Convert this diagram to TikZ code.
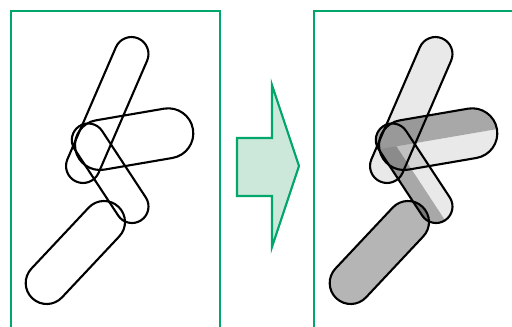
\documentclass[tikz,border=0pt]{standalone}
\definecolor{frameg}{RGB}{0,166,106}
\definecolor{arrowfill}{RGB}{204,232,218}
\definecolor{lightg}{RGB}{233,233,233}
\definecolor{darkg}{RGB}{168,168,168}
\tikzset{
  frame/.style={draw=frameg, line width=2.8pt},
  arrowshape/.style={draw=frameg, fill=arrowfill, line width=2.2pt, line join=miter},
  outline/.style={draw=black, line width=2.1pt},
  lightfill/.style={fill=black, fill opacity=0.085},
  midfill/.style={fill=black, fill opacity=0.29},
  lightsolid/.style={fill=lightg},
  darksolid/.style={fill=darkg},
}
% #1 style, #2 centre, #3 angle, #4 half distance between cap centres, #5 radius
\newcommand\capsfull[5]{\path[#1,shift={#2},rotate=#3] (-#4,-#5) -- (#4,-#5) arc[start angle=-90,end angle=90,radius=#5] -- (-#4,#5) arc[start angle=90,end angle=270,radius=#5] -- cycle;}
\newcommand\capsup[5]{\path[#1,shift={#2},rotate=#3] ({-#4-#5},0) arc[start angle=180,end angle=90,radius=#5] -- (#4,#5) arc[start angle=90,end angle=0,radius=#5] -- cycle;}
\newcommand\capslow[5]{\path[#1,shift={#2},rotate=#3] ({-#4-#5},0) arc[start angle=180,end angle=270,radius=#5] -- (#4,-#5) arc[start angle=270,end angle=360,radius=#5] -- cycle;}
\begin{document}
\begin{tikzpicture}[x=1pt,y=1pt]
\useasboundingbox (0,0) rectangle (512,-327);
% frames
\draw[frame] (11,-332) -- (11,-11) -- (220,-11) -- (220,-332);
\draw[frame] (314,-332) -- (314,-11) -- (520,-11);
% arrow
\draw[arrowshape] (237,-138) -- (272,-138) -- (272,-85) -- (299,-166) -- (272,-247) -- (272,-196) -- (237,-196) -- cycle;
% left picture: outlines only
\capsfull{outline}{(107.25,-110)}{66.6}{61}{17}
\capsfull{outline}{(134.15,-139.15)}{9.72}{34.65}{25}
\capsfull{outline}{(110.15,-173.25)}{-56.7}{39.8}{16.5}
\capsfull{outline}{(75.35,-252.5)}{46.8}{41.85}{21}
% right picture
\begin{scope}[xshift=304pt]
  \capsup{lightsolid}{(110.15,-173.25)}{-56.7}{39.8}{16.5}
  \capslow{darksolid}{(110.15,-173.25)}{-56.7}{39.8}{16.5}
  \capsfull{midfill}{(75.35,-252.5)}{46.8}{41.85}{21}
  \capsup{darksolid}{(134.15,-139.15)}{9.72}{34.65}{25}
  \capslow{lightfill}{(134.15,-139.15)}{9.72}{34.65}{25}
  \capsfull{lightfill}{(107.25,-110)}{66.6}{61}{17}
  \capsfull{outline}{(107.25,-110)}{66.6}{61}{17}
  \capsfull{outline}{(134.15,-139.15)}{9.72}{34.65}{25}
  \capsfull{outline}{(110.15,-173.25)}{-56.7}{39.8}{16.5}
  \capsfull{outline}{(75.35,-252.5)}{46.8}{41.85}{21}
\end{scope}
\end{tikzpicture}
\end{document}
